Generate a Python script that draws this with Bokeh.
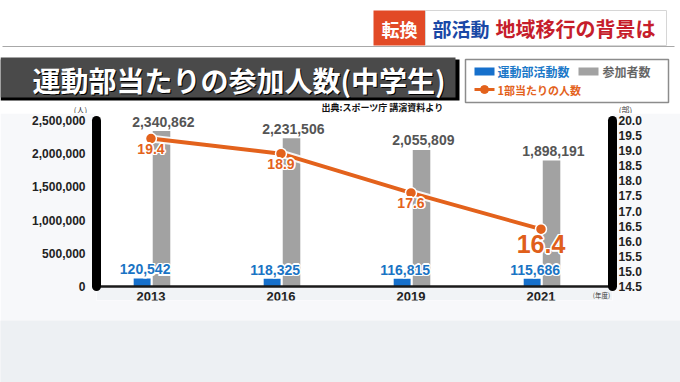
from bokeh.plotting import figure
from bokeh.models import (ColumnDataSource, Range1d, LinearAxis, FixedTicker,
                          NumeralTickFormatter, LabelSet, Label, BoxAnnotation)
from bokeh.layouts import column
from bokeh.transform import dodge
from bokeh.core.properties import value
from bokeh.embed import file_html
from bokeh.resources import INLINE

# ---------------- data ----------------
years = ["2013", "2016", "2019", "2021"]
clubs = [120542, 118325, 116815, 115686]            # 運動部活動数
participants = [2340862, 2231506, 2055809, 1898191]  # 参加者数
per_club = [19.4, 18.9, 17.6, 16.4]                  # 1部当たりの人数
left_ticks = [0, 500000, 1000000, 1500000, 2000000, 2500000]
right_ticks = [14.5, 15.0, 15.5, 16.0, 16.5, 17.0, 17.5, 18.0, 18.5, 19.0, 19.5, 20.0]

title_text = "運動部当たりの参加人数(中学生)"
banner_tag = "転換"
banner_a = "部活動"
banner_b = "地域移行の背景は"
legend_labels = ["運動部活動数", "参加者数", "1部当たりの人数"]
source_note = "出典:スポーツ庁 講演資料より"
unit_left = "(人)"
unit_right = "(部)"
unit_x = "(年度)"

JP = "Noto Sans CJK JP"
NUM = "Liberation Sans"
BLUE = "#1670cc"
GRAY = "#a2a2a2"
ORANGE = "#e3621c"
LOWER_BG = "#f1f3f6"

W = 680
HEAD_H = 113
SPAN_PX, ABOVE_PX, BELOW_PX = 166, 7, 14      # axis span, frame room above/below it
MAIN_BOTTOM = 20
MAIN_H = SPAN_PX + ABOVE_PX + BELOW_PX + MAIN_BOTTOM
FOOT_H = 382 - HEAD_H - MAIN_H

# ---------------- header ----------------
h = figure(width=W, height=HEAD_H, x_range=Range1d(0, W), y_range=Range1d(HEAD_H, 0),
           x_axis_type=None, y_axis_type=None, toolbar_location=None,
           output_backend="svg", min_border=0, title=None, frame_align=False)
h.outline_line_color = None
h.background_fill_color = "white"
h.border_fill_color = "white"

h.segment(x0=[2], y0=[46], x1=[674], y1=[46], line_color="#a8a8a8", line_width=1)
# banner
h.quad(left=[373], right=[425], top=[10], bottom=[45], fill_color="#e24a26", line_color=None)
h.quad(left=[425], right=[666], top=[10], bottom=[45], fill_color="white", line_color="#d6d6d6")
h.text(x=[399], y=[28], text=[banner_tag], text_color="white", text_font=value(JP),
       text_font_style="bold", text_font_size="18px", text_align="center", text_baseline="middle")
h.text(x=[432], y=[28], text=[banner_a], text_color="#1a48a6", text_font=value(JP),
       text_font_style="bold", text_font_size="19px", text_align="left", text_baseline="middle")
h.text(x=[495], y=[28], text=[banner_b], text_color="#c61d2b", text_font=value(JP),
       text_font_style="bold", text_font_size="20px", text_align="left", text_baseline="middle")
# title bar
h.quad(left=[0], right=[459], top=[59], bottom=[100], fill_color="black", line_color=None)
h.quad(left=[0], right=[455], top=[57], bottom=[97], fill_color="#4a4a4a", line_color=None)
h.text(x=[33], y=[80], text=[title_text], text_color="black", text_font=value(JP),
       text_font_style="bold", text_font_size="28px", text_align="left", text_baseline="middle")
h.text(x=[32], y=[79], text=[title_text], text_color="white", text_font=value(JP),
       text_font_style="bold", text_font_size="28px", text_align="left", text_baseline="middle")
# legend
h.quad(left=[465], right=[668], top=[59], bottom=[102], fill_color="white",
       line_color="#8c8c8c", line_width=1.5)
h.quad(left=[474], right=[494], top=[67], bottom=[75], fill_color=BLUE, line_color=None)
h.text(x=[497], y=[71], text=[legend_labels[0]], text_color="#1a78c8", text_font=value(JP),
       text_font_style="bold", text_font_size="12px", text_align="left", text_baseline="middle")
h.quad(left=[578], right=[598], top=[67], bottom=[75], fill_color=GRAY, line_color=None)
h.text(x=[602], y=[71], text=[legend_labels[1]], text_color="#666666", text_font=value(JP),
       text_font_style="bold", text_font_size="12px", text_align="left", text_baseline="middle")
h.segment(x0=[474], y0=[89], x1=[494], y1=[89], line_color=ORANGE, line_width=3)
h.scatter(x=[484], y=[89], size=8, fill_color=ORANGE, line_color=ORANGE)
h.text(x=[497], y=[89], text=[legend_labels[2]], text_color=ORANGE, text_font=value(JP),
       text_font_style="bold", text_font_size="11px", text_align="left", text_baseline="middle")
# source and axis unit captions
h.text(x=[443], y=[107], text=[source_note], text_color="#111111", text_font=value(JP),
       text_font_style="bold", text_font_size="9px", text_align="right", text_baseline="middle")
h.text(x=[80], y=[108.5], text=[unit_left], text_color="#333333", text_font=value(JP),
       text_font_size="8px", text_align="center", text_baseline="middle")
h.text(x=[625], y=[108.5], text=[unit_right], text_color="#333333", text_font=value(JP),
       text_font_size="8px", text_align="center", text_baseline="middle")

# ---------------- main chart ----------------
idx = list(range(len(years)))
src = ColumnDataSource(dict(
    idx=idx, clubs=clubs, participants=participants, per_club=per_club,
    clubs_txt=[f"{v:,}" for v in clubs],
    part_txt=[f"{v:,}" for v in participants],
))
src_small = ColumnDataSource(dict(idx=idx[:-1], per=per_club[:-1],
                                  txt=[f"{v:.1f}" for v in per_club[:-1]]))
src_last = ColumnDataSource(dict(idx=idx[-1:], per=per_club[-1:],
                                 txt=[f"{v:.1f}" for v in per_club[-1:]]))


def padded(lo, hi):
    d = hi - lo
    return Range1d(lo - d * BELOW_PX / SPAN_PX, hi + d * ABOVE_PX / SPAN_PX)


x_start, x_end = -0.419, 3.55
p = figure(width=W, height=MAIN_H, x_range=Range1d(x_start, x_end),
           y_range=padded(left_ticks[0], left_ticks[-1]),
           toolbar_location=None, output_backend="svg", title=None, frame_align=False,
           min_border_left=96, min_border_right=68, min_border_top=0,
           min_border_bottom=MAIN_BOTTOM)
p.extra_y_ranges = {"per": padded(right_ticks[0], right_ticks[-1])}
p.outline_line_color = None
p.grid.visible = False
p.background_fill_color = "white"
p.border_fill_color = "#f7f8fa"

# light band below the baseline
p.add_layout(BoxAnnotation(top=left_ticks[0], fill_color=LOWER_BG, fill_alpha=1,
                           line_color=None, level="underlay"))

xa = p.xaxis[0]
xa.fixed_location = left_ticks[0]
xa.ticker = FixedTicker(ticks=idx)
xa.major_label_overrides = {i: y for i, y in zip(idx, years)}
xa.axis_line_width = 2.5
xa.axis_line_color = "#1a1a1a"
xa.major_tick_line_color = None
xa.minor_tick_line_color = None
xa.major_tick_out = 0
xa.major_tick_in = 0
xa.major_label_standoff = 5
xa.major_label_text_font = NUM
xa.major_label_text_font_style = "bold"
xa.major_label_text_font_size = "13px"
xa.major_label_text_color = "#222222"

ya = p.yaxis[0]
ya.bounds = (left_ticks[0], left_ticks[-1])
ya.ticker = FixedTicker(ticks=left_ticks)
ya.formatter = NumeralTickFormatter(format="0,0")
ya.axis_line_width = 9
ya.axis_line_cap = "round"
ya.axis_line_color = "black"
ya.major_tick_line_color = None
ya.minor_tick_line_color = None
ya.major_tick_out = 0
ya.major_tick_in = 0
ya.major_label_standoff = 11
ya.major_label_text_font = NUM
ya.major_label_text_font_style = "bold"
ya.major_label_text_font_size = "12px"
ya.major_label_text_color = "#222222"

ra = LinearAxis(y_range_name="per", ticker=FixedTicker(ticks=right_ticks),
                formatter=NumeralTickFormatter(format="0.0"),
                bounds=(right_ticks[0], right_ticks[-1]))
ra.axis_line_width = 9
ra.axis_line_cap = "round"
ra.axis_line_color = "black"
ra.major_tick_line_color = None
ra.minor_tick_line_color = None
ra.major_tick_out = 0
ra.major_tick_in = 0
ra.major_label_standoff = 6
ra.major_label_text_font = NUM
ra.major_label_text_font_style = "bold"
ra.major_label_text_font_size = "12px"
ra.major_label_text_color = "#222222"
p.add_layout(ra, "right")

# bars
p.vbar(x=dodge("idx", -0.068), top="clubs", width=0.13, source=src,
       fill_color=BLUE, line_color=None)
p.vbar(x=dodge("idx", 0.081), top="participants", width=0.135, source=src,
       fill_color=GRAY, line_color=None)

# line
p.line("idx", "per_club", source=src, y_range_name="per", line_color="white",
       line_width=8, line_alpha=0.9)
p.line("idx", "per_club", source=src, y_range_name="per", line_color=ORANGE, line_width=4)
p.scatter("idx", "per_club", source=src, y_range_name="per", size=11,
          fill_color=ORANGE, line_color="white", line_width=1.5)


def labels(x, y, text, source, color, size, yoff, halo=False, **kw):
    common = dict(x=x, y=y, text=text, source=source, text_align="center",
                  text_baseline="middle", text_font=value(NUM), text_font_style="bold",
                  text_font_size=size, **kw)
    if halo:
        for dx, dy in [(-1.5, 0), (1.5, 0), (0, -1.5), (0, 1.5),
                       (-1.1, -1.1), (1.1, -1.1), (-1.1, 1.1), (1.1, 1.1)]:
            p.add_layout(LabelSet(x_offset=dx, y_offset=yoff + dy, text_color="white", **common))
    p.add_layout(LabelSet(y_offset=yoff, text_color=color, **common))


# value labels
labels(dodge("idx", -0.045), "clubs", "clubs_txt", src, "#1a74c4", "14px", 9, halo=True)
labels(dodge("idx", 0.095), "participants", "part_txt", src, "#555555", "14px", 9.5)
labels("idx", "per", "txt", src_small, ORANGE, "14px", -10, halo=True, y_range_name="per")
labels("idx", "per", "txt", src_last, "#e05f1b", "25px", -15, halo=True, y_range_name="per")

p.add_layout(Label(x=x_end, y=left_ticks[0], x_offset=-11, y_offset=-8, text=unit_x,
                   text_font=JP, text_font_size="6.5px", text_color="#333333",
                   text_align="center", text_baseline="middle"))

# ---------------- footer (background) ----------------
f = figure(width=W, height=FOOT_H, x_range=Range1d(0, W), y_range=Range1d(0, FOOT_H),
           x_axis_type=None, y_axis_type=None, toolbar_location=None,
           output_backend="svg", min_border=0, title=None, frame_align=False)
f.outline_line_color = None
f.background_fill_color = "#edf0f3"
f.border_fill_color = "#edf0f3"
f.quad(left=[0], right=[W], top=[FOOT_H], bottom=[0], fill_color="#edf0f3", line_color=None)

layout = column(h, p, f)
open("out.html", "w").write(file_html(layout, INLINE))
